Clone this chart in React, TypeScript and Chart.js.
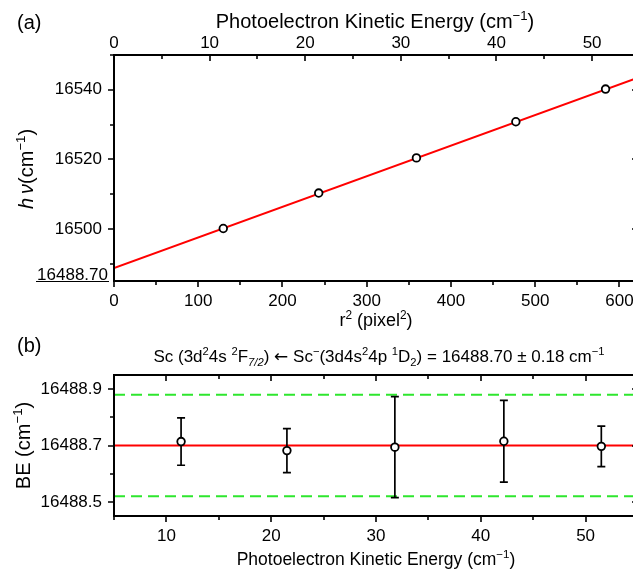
import React, { useEffect, useRef } from 'react';
import { Chart, registerables } from 'chart.js';

Chart.register(...registerables);

// ---------- Panel (a) data ----------
const r2Values = [129.7, 243, 359, 477, 583.5];
const hvValues = [16500.1, 16510.3, 16520.4, 16530.8, 16540.2];
const fitR2 = [0, 622];
const fitHv = [16488.7, 16543.44];
const aInterceptLabel = '16488.70';

const aLeftMajor = [16500, 16520, 16540];
const aLeftMinor = [16490, 16510, 16530, 16550];
const aBottomMajor = [0, 100, 200, 300, 400, 500, 600];
const aBottomMinor = [50, 150, 250, 350, 450, 550];
const aTopMajor = [0, 10, 20, 30, 40, 50];
const aTopMinor = [5, 15, 25, 35, 45];

// ---------- Panel (b) data ----------
const keValues = [11.4, 21.5, 31.8, 42.2, 51.5];
const beValues = [16488.714, 16488.682, 16488.694, 16488.715, 16488.697];
const beErrors = [0.084, 0.078, 0.179, 0.145, 0.072];
const beMean = 16488.7;
const beUncertainty = 0.18;
const beLineX = [5, 55];

const bLeftMajor = [16488.5, 16488.7, 16488.9];
const bLeftMinor = [16488.6, 16488.8];
const bBottomMajor = [10, 20, 30, 40, 50];
const bBottomMinor = [5, 15, 25, 35, 45, 55];

const FONT = '"Liberation Sans", Arial, Helvetica, sans-serif';
const TICK_SIZE = 17;

type Seg = { t: string; sup?: boolean; sub?: boolean; it?: boolean; fam?: string };

function fontFor(seg: Seg, size: number) {
  const s = seg.sup || seg.sub ? size * 0.66 : size;
  return `${seg.it ? 'italic ' : ''}${s}px ${seg.fam || FONT}`;
}
function richWidth(ctx: CanvasRenderingContext2D, segs: Seg[], size: number) {
  let w = 0;
  for (const s of segs) {
    ctx.font = fontFor(s, size);
    w += ctx.measureText(s.t).width;
  }
  return w;
}
function drawRich(
  ctx: CanvasRenderingContext2D,
  segs: Seg[],
  size: number,
  x: number,
  y: number,
  align: 'left' | 'center' | 'right' = 'center',
  rotate = false
) {
  ctx.save();
  ctx.translate(x, y);
  if (rotate) ctx.rotate(-Math.PI / 2);
  const w = richWidth(ctx, segs, size);
  let cx = align === 'center' ? -w / 2 : align === 'right' ? -w : 0;
  const base = size * 0.36;
  ctx.textBaseline = 'alphabetic';
  ctx.textAlign = 'left';
  ctx.fillStyle = '#000';
  for (const s of segs) {
    ctx.font = fontFor(s, size);
    let dy = base;
    if (s.sup) dy -= size * 0.4;
    if (s.sub) dy += size * 0.2;
    ctx.fillText(s.t, cx, dy);
    cx += ctx.measureText(s.t).width;
  }
  ctx.restore();
  return w;
}

function xTicks(ctx: CanvasRenderingContext2D, scale: any, vals: number[], y0: number, d: number) {
  ctx.beginPath();
  for (const v of vals) {
    const p = Math.round(scale.getPixelForValue(v));
    ctx.moveTo(p, y0);
    ctx.lineTo(p, y0 + d);
  }
  ctx.stroke();
}
function yTicks(ctx: CanvasRenderingContext2D, scale: any, vals: number[], x0: number, d: number) {
  ctx.beginPath();
  for (const v of vals) {
    const p = Math.round(scale.getPixelForValue(v));
    ctx.moveTo(x0, p);
    ctx.lineTo(x0 + d, p);
  }
  ctx.stroke();
}
function frame(ctx: CanvasRenderingContext2D, a: any) {
  ctx.lineWidth = 2;
  ctx.strokeStyle = '#000';
  ctx.beginPath();
  ctx.moveTo(a.left, a.top - 1);
  ctx.lineTo(a.left, a.bottom + 1);
  ctx.moveTo(a.left - 1, a.bottom);
  ctx.lineTo(a.right + 1, a.bottom);
  ctx.moveTo(a.left - 1, a.top);
  ctx.lineTo(a.right + 1, a.top);
  ctx.moveTo(a.right, a.top);
  ctx.lineTo(a.right, a.bottom);
  ctx.stroke();
}

const MAJ = 6;
const MIN = 4;

const panelAPlugin = {
  id: 'panelA',
  afterDraw(chart: any) {
    const { ctx, chartArea: a, scales } = chart;
    const x = scales.x;
    const x2 = scales.x2;
    const y = scales.y;
    ctx.save();
    frame(ctx, a);
    ctx.lineWidth = 1.6;
    // left (outward)
    yTicks(ctx, y, aLeftMajor, a.left, -MAJ);
    yTicks(ctx, y, aLeftMinor, a.left, -MIN);
    // right (inward)
    yTicks(ctx, y, aLeftMajor, a.right, -MAJ);
    yTicks(ctx, y, aLeftMinor, a.right, -MIN);
    // bottom (outward)
    xTicks(ctx, x, aBottomMajor, a.bottom, MAJ);
    xTicks(ctx, x, aBottomMinor, a.bottom, MIN);
    // top (inward)
    xTicks(ctx, x2, aTopMajor, a.top, MAJ);
    xTicks(ctx, x2, aTopMinor, a.top, MIN);

    // panel label
    drawRich(ctx, [{ t: '(a)' }], 20, 17, 22, 'left');
    // top title
    drawRich(
      ctx,
      [{ t: 'Photoelectron Kinetic Energy (cm' }, { t: '\u22121', sup: true }, { t: ')' }],
      20,
      (a.left + a.right) / 2 - 1,
      21,
      'center'
    );
    // bottom title
    drawRich(
      ctx,
      [{ t: 'r' }, { t: '2', sup: true }, { t: ' (pixel' }, { t: '2', sup: true }, { t: ')' }],
      18,
      (a.left + a.right) / 2,
      320,
      'center'
    );
    // y title
    drawRich(
      ctx,
      [{ t: 'h', it: true }, { t: '\u2009' }, { t: '\u03bd', it: true }, { t: '(cm' }, { t: '\u22121', sup: true }, { t: ')' }],
      20,
      26,
      (a.top + a.bottom) / 2 + 1,
      'center',
      true
    );
    // intercept label, underlined
    const ly = y.getPixelForValue(fitHv[0]) + 6;
    const w = drawRich(ctx, [{ t: aInterceptLabel }], TICK_SIZE, 108, ly, 'right');
    ctx.lineWidth = 1;
    ctx.strokeStyle = '#000';
    ctx.beginPath();
    ctx.moveTo(Math.round(108 - w - 1), Math.round(a.bottom) + 0.5);
    ctx.lineTo(109, Math.round(a.bottom) + 0.5);
    ctx.stroke();
    ctx.restore();
  },
};

const panelBPlugin = {
  id: 'panelB',
  beforeDatasetDraw(chart: any, args: any) {
    if (args.index !== 0) return;
    const { ctx, scales } = chart;
    const x = scales.x;
    const y = scales.y;
    ctx.save();
    ctx.strokeStyle = '#000';
    ctx.lineWidth = 1.7;
    ctx.beginPath();
    keValues.forEach((k, i) => {
      const px = x.getPixelForValue(k);
      const top = y.getPixelForValue(beValues[i] + beErrors[i]);
      const bot = y.getPixelForValue(beValues[i] - beErrors[i]);
      ctx.moveTo(px, top);
      ctx.lineTo(px, bot);
      ctx.moveTo(px - 4, top);
      ctx.lineTo(px + 4, top);
      ctx.moveTo(px - 4, bot);
      ctx.lineTo(px + 4, bot);
    });
    ctx.stroke();
    ctx.restore();
  },
  afterDraw(chart: any) {
    const { ctx, chartArea: a, scales } = chart;
    const x = scales.x;
    const y = scales.y;
    ctx.save();
    frame(ctx, a);
    ctx.lineWidth = 1.6;
    yTicks(ctx, y, bLeftMajor, a.left, -MAJ);
    yTicks(ctx, y, bLeftMinor, a.left, -MIN);
    yTicks(ctx, y, bLeftMajor, a.right, -MAJ);
    yTicks(ctx, y, bLeftMinor, a.right, -MIN);
    xTicks(ctx, x, bBottomMajor, a.bottom, MAJ);
    xTicks(ctx, x, bBottomMinor, a.bottom, MIN);
    xTicks(ctx, x, bBottomMajor, a.top, MAJ);
    xTicks(ctx, x, bBottomMinor, a.top, MIN);

    drawRich(ctx, [{ t: '(b)' }], 20, 17, 11, 'left');
    drawRich(
      ctx,
      [
        { t: 'Sc (3d' },
        { t: '2', sup: true },
        { t: '4s ' },
        { t: '2', sup: true },
        { t: 'F' },
        { t: '7/2', sub: true, it: true },
        { t: ') ' },
        { t: '\u2190', fam: '"DejaVu Sans", sans-serif' },
        { t: ' Sc' },
        { t: '\u2212', sup: true },
        { t: '(3d4s' },
        { t: '2', sup: true },
        { t: '4p ' },
        { t: '1', sup: true },
        { t: 'D' },
        { t: '2', sub: true },
        { t: ') = 16488.70 \u00b1 0.18 cm' },
        { t: '\u22121', sup: true },
      ],
      17,
      379,
      22,
      'center'
    );
    drawRich(
      ctx,
      [{ t: 'Photoelectron Kinetic Energy (cm' }, { t: '\u22121', sup: true }, { t: ')' }],
      17.5,
      (a.left + a.right) / 2,
      225,
      'center'
    );
    drawRich(
      ctx,
      [{ t: 'BE (cm' }, { t: '\u22121', sup: true }, { t: ')' }],
      20,
      23,
      (a.top + a.bottom) / 2,
      'center',
      true
    );
    ctx.restore();
  },
};

function axisCommon(padding: number, labels: number[], fmt: (v: number) => string, fit: (s: any) => void) {
  return {
    type: 'linear' as const,
    grid: { display: false, drawTicks: false },
    border: { display: false },
    ticks: {
      padding,
      color: '#000',
      font: { family: FONT, size: TICK_SIZE },
      callback: (v: any) => fmt(Number(v)),
      maxRotation: 0,
      autoSkip: false,
    },
    afterBuildTicks: (s: any) => {
      s.ticks = labels.map((v) => ({ value: v }));
    },
    afterFit: fit,
  };
}

export default function App() {
  const c1 = useRef<HTMLCanvasElement>(null);
  const c2 = useRef<HTMLCanvasElement>(null);

  useEffect(() => {
    Chart.defaults.font.family = FONT;
    const pointStyle = {
      pointRadius: 3.8,
      pointBorderWidth: 1.8,
      pointBorderColor: '#000',
      pointBackgroundColor: '#fff',
      showLine: false,
    };
    const chartA = new Chart(c1.current as HTMLCanvasElement, {
      type: 'scatter',
      data: {
        datasets: [
          {
            data: r2Values.map((r, i) => ({ x: r, y: hvValues[i] })),
            ...pointStyle,
            xAxisID: 'x',
            yAxisID: 'y',
          },
          {
            data: fitR2.map((r, i) => ({ x: r, y: fitHv[i] })),
            showLine: true,
            borderColor: '#ff0000',
            borderWidth: 2,
            pointRadius: 0,
            xAxisID: 'x',
            yAxisID: 'y',
          },
        ],
      },
      options: {
        responsive: false,
        animation: false,
        events: [],
        layout: { padding: { left: 0, top: 0, right: 22, bottom: 0 } },
        plugins: { legend: { display: false }, tooltip: { enabled: false } },
        scales: {
          x: {
            ...axisCommon(10, aBottomMajor, (v) => String(v), (s: any) => { s.height = 53; }),
            position: 'bottom',
            min: 0,
            max: 622,
          },
          x2: {
            ...axisCommon(1, aTopMajor, (v) => String(v), (s: any) => { s.height = 55; }),
            position: 'top',
            min: 0,
            max: 54.8,
          },
          y: {
            ...axisCommon(12, aLeftMajor, (v) => String(v), (s: any) => { s.width = 114; }),
            position: 'left',
            min: 16485,
            max: 16550,
          },
        },
      } as any,
      plugins: [panelAPlugin],
    });

    const chartB = new Chart(c2.current as HTMLCanvasElement, {
      type: 'scatter',
      data: {
        datasets: [
          {
            data: keValues.map((k, i) => ({ x: k, y: beValues[i] })),
            ...pointStyle,
          },
          {
            data: beLineX.map((k) => ({ x: k, y: beMean })),
            showLine: true,
            borderColor: '#ff0000',
            borderWidth: 2,
            pointRadius: 0,
          },
          {
            data: beLineX.map((k) => ({ x: k, y: beMean + beUncertainty })),
            showLine: true,
            borderColor: '#2ee62e',
            borderWidth: 2,
            borderDash: [11, 6],
            pointRadius: 0,
          },
          {
            data: beLineX.map((k) => ({ x: k, y: beMean - beUncertainty })),
            showLine: true,
            borderColor: '#2ee62e',
            borderWidth: 2,
            borderDash: [11, 6],
            pointRadius: 0,
          },
        ],
      },
      options: {
        responsive: false,
        animation: false,
        events: [],
        layout: { padding: { left: 0, top: 41, right: 22, bottom: 0 } },
        plugins: { legend: { display: false }, tooltip: { enabled: false } },
        scales: {
          x: {
            ...axisCommon(10, bBottomMajor, (v) => String(v), (s: any) => { s.height = 55; }),
            position: 'bottom',
            min: 5,
            max: 55,
          },
          y: {
            ...axisCommon(12, bLeftMajor, (v) => v.toFixed(1), (s: any) => { s.width = 114; }),
            position: 'left',
            min: 16488.45,
            max: 16488.95,
          },
        },
      } as any,
      plugins: [panelBPlugin],
    });

    return () => {
      chartA.destroy();
      chartB.destroy();
    };
  }, []);

  return (
    <div
      style={{
        position: 'fixed',
        left: 0,
        top: 0,
        width: 633,
        height: 571,
        overflow: 'hidden',
        background: '#fff',
      }}
    >
      <canvas ref={c1} width={660} height={334} style={{ display: 'block' }} />
      <canvas ref={c2} width={660} height={237} style={{ display: 'block' }} />
    </div>
  );
}
